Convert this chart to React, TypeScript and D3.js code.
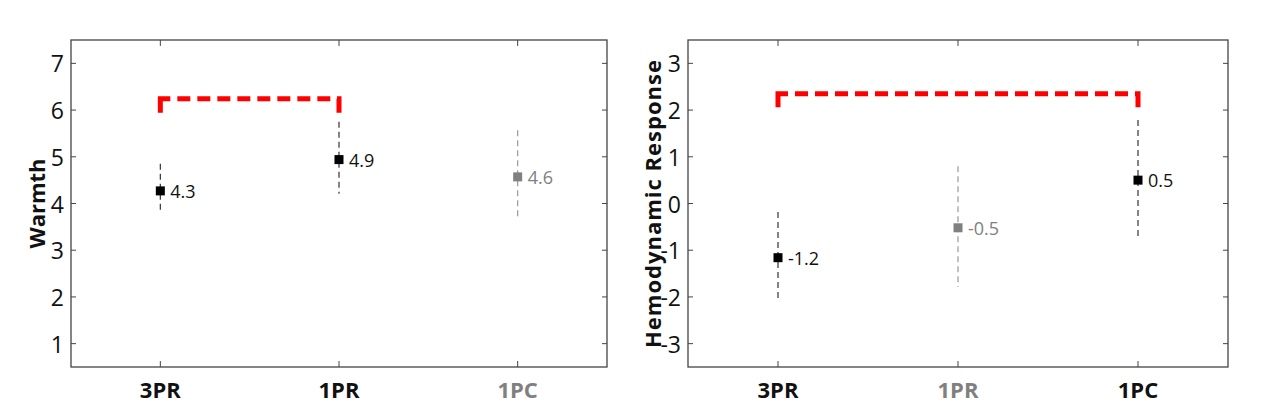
import React from "react";
import * as d3 from "d3";

const categories = ["3PR", "1PR", "1PC"];

// Left panel: Warmth
const warmthMean = [4.27, 4.94, 4.57];
const warmthUpper = [4.85, 5.75, 5.57];
const warmthLower = [3.81, 4.21, 3.7];
const warmthLabels = ["4.3", "4.9", "4.6"];
const warmthGray = [false, false, true];
const warmthTicks = [1, 2, 3, 4, 5, 6, 7];
const warmthBracket = { from: 0, to: 1, y: 6.24, foot: 5.94 };

// Right panel: Hemodynamic response
const hemoMean = [-1.16, -0.52, 0.5];
const hemoUpper = [-0.18, 0.8, 1.79];
const hemoLower = [-2.08, -1.79, -0.73];
const hemoLabels = ["-1.2", "-0.5", "0.5"];
const hemoGray = [false, true, false];
const hemoTicks = [-3, -2, -1, 0, 1, 2, 3];
const hemoBracket = { from: 0, to: 2, y: 2.35, foot: 2.06 };

const FONT = "'Open Sans', 'Noto Sans', sans-serif";
const GRAY = "#808080";

type PanelProps = {
  x0: number;
  x1: number;
  y0: number;
  y1: number;
  domain: [number, number];
  ticks: number[];
  mean: number[];
  upper: number[];
  lower: number[];
  labels: string[];
  gray: boolean[];
  bracket: { from: number; to: number; y: number; foot: number };
  ylabel: string;
  ylabelX: number;
  ylabelSpacing: number;
};

function Panel(p: PanelProps) {
  const x = d3.scalePoint<string>().domain(categories).range([p.x0, p.x1]).padding(0.5);
  const y = d3.scaleLinear().domain(p.domain).range([p.y1, p.y0]);
  const bx0 = x(categories[p.bracket.from])!;
  const bx1 = x(categories[p.bracket.to])!;
  const by = y(p.bracket.y);
  const bf = y(p.bracket.foot);
  const line = d3.line();
  const stub = 10;
  const leftCorner = line([
    [bx0, bf],
    [bx0, by],
    [bx0 + stub, by],
  ])!;
  const rightCorner = line([
    [bx1 - 2, by],
    [bx1, by],
    [bx1, bf],
  ])!;
  const middle = line([
    [bx0 + stub + 7, by],
    [bx1 - 2, by],
  ])!;
  const axisColor = "#444";
  const tl = 5;
  return (
    <g>
      {p.ticks.map((t) => (
        <g key={"yt" + t}>
          <line x1={p.x0} x2={p.x0 + tl} y1={y(t)} y2={y(t)} stroke={axisColor} strokeWidth={1} />
          <line x1={p.x1} x2={p.x1 - tl} y1={y(t)} y2={y(t)} stroke={axisColor} strokeWidth={1} />
          <text
            x={p.x0 - 7}
            y={y(t)}
            textAnchor="end"
            dominantBaseline="central"
            fontFamily={FONT}
            fontSize={23}
            fill="#111"
          >
            {t}
          </text>
        </g>
      ))}
      {categories.map((c, i) => (
        <g key={"xt" + c}>
          <line x1={x(c)} x2={x(c)} y1={p.y1} y2={p.y1 - 6} stroke={axisColor} strokeWidth={1} />
          <line x1={x(c)} x2={x(c)} y1={p.y0} y2={p.y0 + 6} stroke={axisColor} strokeWidth={1} />
          <text
            x={x(c)}
            y={p.y1 + 22}
            textAnchor="middle"
            dominantBaseline="central"
            fontFamily={FONT}
            fontWeight="bold"
            fontSize={22}
            fill={p.gray[i] ? GRAY : "#111"}
          >
            {c}
          </text>
        </g>
      ))}
      <rect x={p.x0} y={p.y0} width={p.x1 - p.x0} height={p.y1 - p.y0} fill="none" stroke={axisColor} strokeWidth={1.3} />
      <path d={leftCorner} fill="none" stroke="#ff0000" strokeWidth={5} />
      <path d={rightCorner} fill="none" stroke="#ff0000" strokeWidth={5} />
      <path d={middle} fill="none" stroke="#ff0000" strokeWidth={5} strokeDasharray="13,7" />
      {categories.map((c, i) => {
        const cx = x(c)!;
        const col = p.gray[i] ? "#999" : "#333";
        const mcol = p.gray[i] ? GRAY : "#000";
        return (
          <g key={"pt" + c}>
            <line x1={cx} x2={cx} y1={y(p.upper[i])} y2={y(p.lower[i])} stroke={col} strokeWidth={1.2} strokeDasharray="6,4" />
            <rect x={cx - 4.5} y={y(p.mean[i]) - 4.5} width={9} height={9} fill={mcol} />
            <text
              x={cx + 10}
              y={y(p.mean[i])}
              dominantBaseline="central"
              fontFamily={FONT}
              fontSize={18}
              fill={p.gray[i] ? GRAY : "#111"}
            >
              {p.labels[i]}
            </text>
          </g>
        );
      })}
      <text
        transform={`translate(${p.ylabelX},${(p.y0 + p.y1) / 2}) rotate(-90)`}
        textAnchor="middle"
        dominantBaseline="central"
        fontFamily={FONT}
        fontWeight="bold"
        fontSize={22}
        letterSpacing={p.ylabelSpacing}
        fill="#111"
      >
        {p.ylabel}
      </text>
    </g>
  );
}

export default function App() {
  return (
    <svg width={1271} height={419} style={{ position: "absolute", left: 0, top: 0, background: "#fff" }}>
      <rect width={1271} height={419} fill="#fff" />
      <Panel
        x0={71}
        x1={607}
        y0={40}
        y1={367}
        domain={[0.5, 7.5]}
        ticks={warmthTicks}
        mean={warmthMean}
        upper={warmthUpper}
        lower={warmthLower}
        labels={warmthLabels}
        gray={warmthGray}
        bracket={warmthBracket}
        ylabel="Warmth"
        ylabelX={36}
        ylabelSpacing={0}
      />
      <Panel
        x0={688}
        x1={1228}
        y0={40}
        y1={367}
        domain={[-3.5, 3.5]}
        ticks={hemoTicks}
        mean={hemoMean}
        upper={hemoUpper}
        lower={hemoLower}
        labels={hemoLabels}
        gray={hemoGray}
        bracket={hemoBracket}
        ylabel="Hemodynamic Response"
        ylabelX={652}
        ylabelSpacing={1}
      />
    </svg>
  );
}
